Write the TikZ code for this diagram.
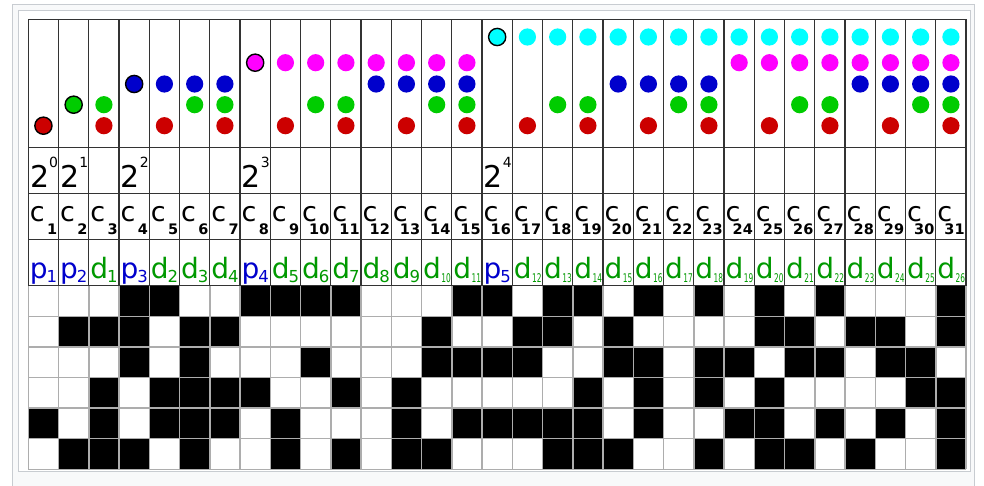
\documentclass[tikz,border=0pt]{standalone}
\usepackage{fontspec}
\setmainfont{DejaVu Sans}
\definecolor{framebd}{HTML}{C8CCD1}
\definecolor{framebg}{HTML}{F8F9FA}
\definecolor{dred}{HTML}{CC0000}
\definecolor{dgreen}{HTML}{00CC00}
\definecolor{dblue}{HTML}{0000CC}
\definecolor{dmag}{HTML}{FF00FF}
\definecolor{dcyan}{HTML}{00FFFF}
\definecolor{ptext}{HTML}{0000CC}
\definecolor{dtext}{HTML}{009900}
\def\letterp{p}
\begin{document}
\begin{tikzpicture}[x=1pt,y=-1pt,
  topline/.style={draw=black!80, line width=1.3pt},
  gridline/.style={draw=black!32, line width=1.4pt},
  bitcell/.style={fill=black},
  ring/.style={draw=black, line width=1.4pt},
  bigtwo/.style={anchor=base west, inner sep=0pt, font=\fontsize{30}{30}\selectfont},
  cmain/.style={anchor=base west, inner sep=0pt, font=\fontsize{27}{27}\selectfont},
  csub/.style={anchor=base east, inner sep=0pt, font=\fontsize{14.5}{14.5}\selectfont\bfseries},
  lmain/.style={anchor=base west, inner sep=0pt, font=\fontsize{28}{28}\selectfont},
  lsub/.style={anchor=base east, inner sep=0pt, font=\fontsize{16.5}{16.5}\selectfont},
  lsubb/.style={anchor=base east, inner sep=0pt, font=\fontsize{12}{12}\selectfont}]
\useasboundingbox (0,0) rectangle (984,486);
\def\L{28.3}
\def\W{30.25}
\def\GT{285.7}
\def\GH{30.6}
% frame
\filldraw[fill=framebg, draw=framebd, line width=1pt] (12.5,4.5) rectangle (974.5,500);
\filldraw[fill=white, draw=framebd, line width=1pt] (18.5,10.7) rectangle (970.5,471);
% bit grid
\foreach \bits [count=\r] in {
 {0,0,0,1,1,0,0,1,1,1,1,0,0,0,1,1,0,1,1,0,1,0,1,0,1,0,1,0,0,0,1},
 {0,1,1,1,0,1,1,0,0,0,0,0,0,1,0,0,1,1,0,1,0,0,0,0,1,1,0,1,1,0,1},
 {0,0,0,1,0,1,0,0,0,1,0,0,0,1,1,1,1,0,0,1,1,0,1,1,0,1,1,0,1,1,0},
 {0,0,1,0,1,1,1,1,0,0,1,0,1,0,0,0,0,0,1,0,1,0,1,0,1,0,0,0,0,1,1},
 {1,0,1,0,1,1,1,0,1,0,0,0,1,0,1,1,1,1,1,0,1,0,0,1,1,0,1,0,1,0,1},
 {0,1,1,1,0,1,0,0,1,0,1,0,1,1,0,0,0,1,1,1,0,0,1,0,1,1,0,1,0,0,1}} {
  \foreach \b [count=\c] in \bits {
    \ifnum\b=1
      \fill[bitcell] ({\L+(\c-1)*\W},{\GT+(\r-1)*\GH}) rectangle ++(\W,\GH);
    \fi
  }
}
\foreach \k in {1,...,6} \draw[gridline] (\L,{\GT+\k*\GH}) -- ({\L+31*\W},{\GT+\k*\GH});
\foreach \j in {0,...,31} \draw[gridline] ({\L+\j*\W},\GT) -- ({\L+\j*\W},{\GT+6*\GH});
% top table lines
\foreach \yy in {19.3,147.5,193.3,239.3,285.7} \draw[topline] (\L,\yy) -- ({\L+31*\W},\yy);
\foreach \j in {0,...,31} \draw[topline] ({\L+\j*\W},19.3) -- ({\L+\j*\W},285.7);
% dots
\foreach \i in {1,...,31} {
  \pgfmathsetmacro\cx{\L+(\i-0.5)*\W}
  \pgfmathtruncatemacro\ba{mod(\i,2)}
  \pgfmathtruncatemacro\bb{mod(floor(\i/2),2)}
  \pgfmathtruncatemacro\bc{mod(floor(\i/4),2)}
  \pgfmathtruncatemacro\bd{mod(floor(\i/8),2)}
  \pgfmathtruncatemacro\be{mod(floor(\i/16),2)}
  \ifnum\ba=1 \fill[dred] (\cx,125.7) circle[radius=8.6pt]; \fi
  \ifnum\bb=1 \fill[dgreen] (\cx,104.7) circle[radius=8.6pt]; \fi
  \ifnum\bc=1 \fill[dblue] (\cx,84) circle[radius=8.6pt]; \fi
  \ifnum\bd=1 \fill[dmag] (\cx,62.7) circle[radius=8.6pt]; \fi
  \ifnum\be=1 \fill[dcyan] (\cx,37) circle[radius=8.6pt]; \fi
}
\draw[ring] ({\L+0.5*\W},125.7) circle[radius=8.6pt];
\draw[ring] ({\L+1.5*\W},104.7) circle[radius=8.6pt];
\draw[ring] ({\L+3.5*\W},84) circle[radius=8.6pt];
\draw[ring] ({\L+7.5*\W},62.7) circle[radius=8.6pt];
\draw[ring] ({\L+15.5*\W},37) circle[radius=8.6pt];
% powers of two
\foreach \i/\e in {1/0,2/1,4/2,8/3,16/4}
  \node[bigtwo] (pw\i) at ({\L+(\i-1)*\W+1.5},187.7) {2\fontsize{14}{14}\selectfont\raisebox{20.5pt}{\e}};
% c labels
\foreach \i in {1,...,31} {
  \node[cmain] (c\i) at ({\L+(\i-1)*\W+1.3},221.2) {c};
  \node[csub] (cs\i) at ({\L+\i*\W-1.2},234) {\i};
}
% p / d labels
\foreach \i/\t/\n in {1/p/1,2/p/2,3/d/1,4/p/3,5/d/2,6/d/3,7/d/4,8/p/4,9/d/5,10/d/6,
  11/d/7,12/d/8,13/d/9,14/d/10,15/d/11,16/p/5,17/d/12,18/d/13,19/d/14,20/d/15,
  21/d/16,22/d/17,23/d/18,24/d/19,25/d/20,26/d/21,27/d/22,28/d/23,29/d/24,30/d/25,31/d/26} {
  \edef\tl{\t}
  \ifx\tl\letterp\def\tc{ptext}\else\def\tc{dtext}\fi
  \node[lmain, text=\tc] (l\i) at ({\L+(\i-1)*\W+1.3},278.3) {\t};
  \ifnum\n<10
    \node[lsub, text=\tc] (ls\i) at ({\L+\i*\W-1.2},282.7) {\n};
  \else
    \node[lsubb, text=\tc] (ls\i) at ({\L+\i*\W-0.8},282.7) {\scalebox{0.62}[1]{\n}};
  \fi
}
\end{tikzpicture}
\end{document}
